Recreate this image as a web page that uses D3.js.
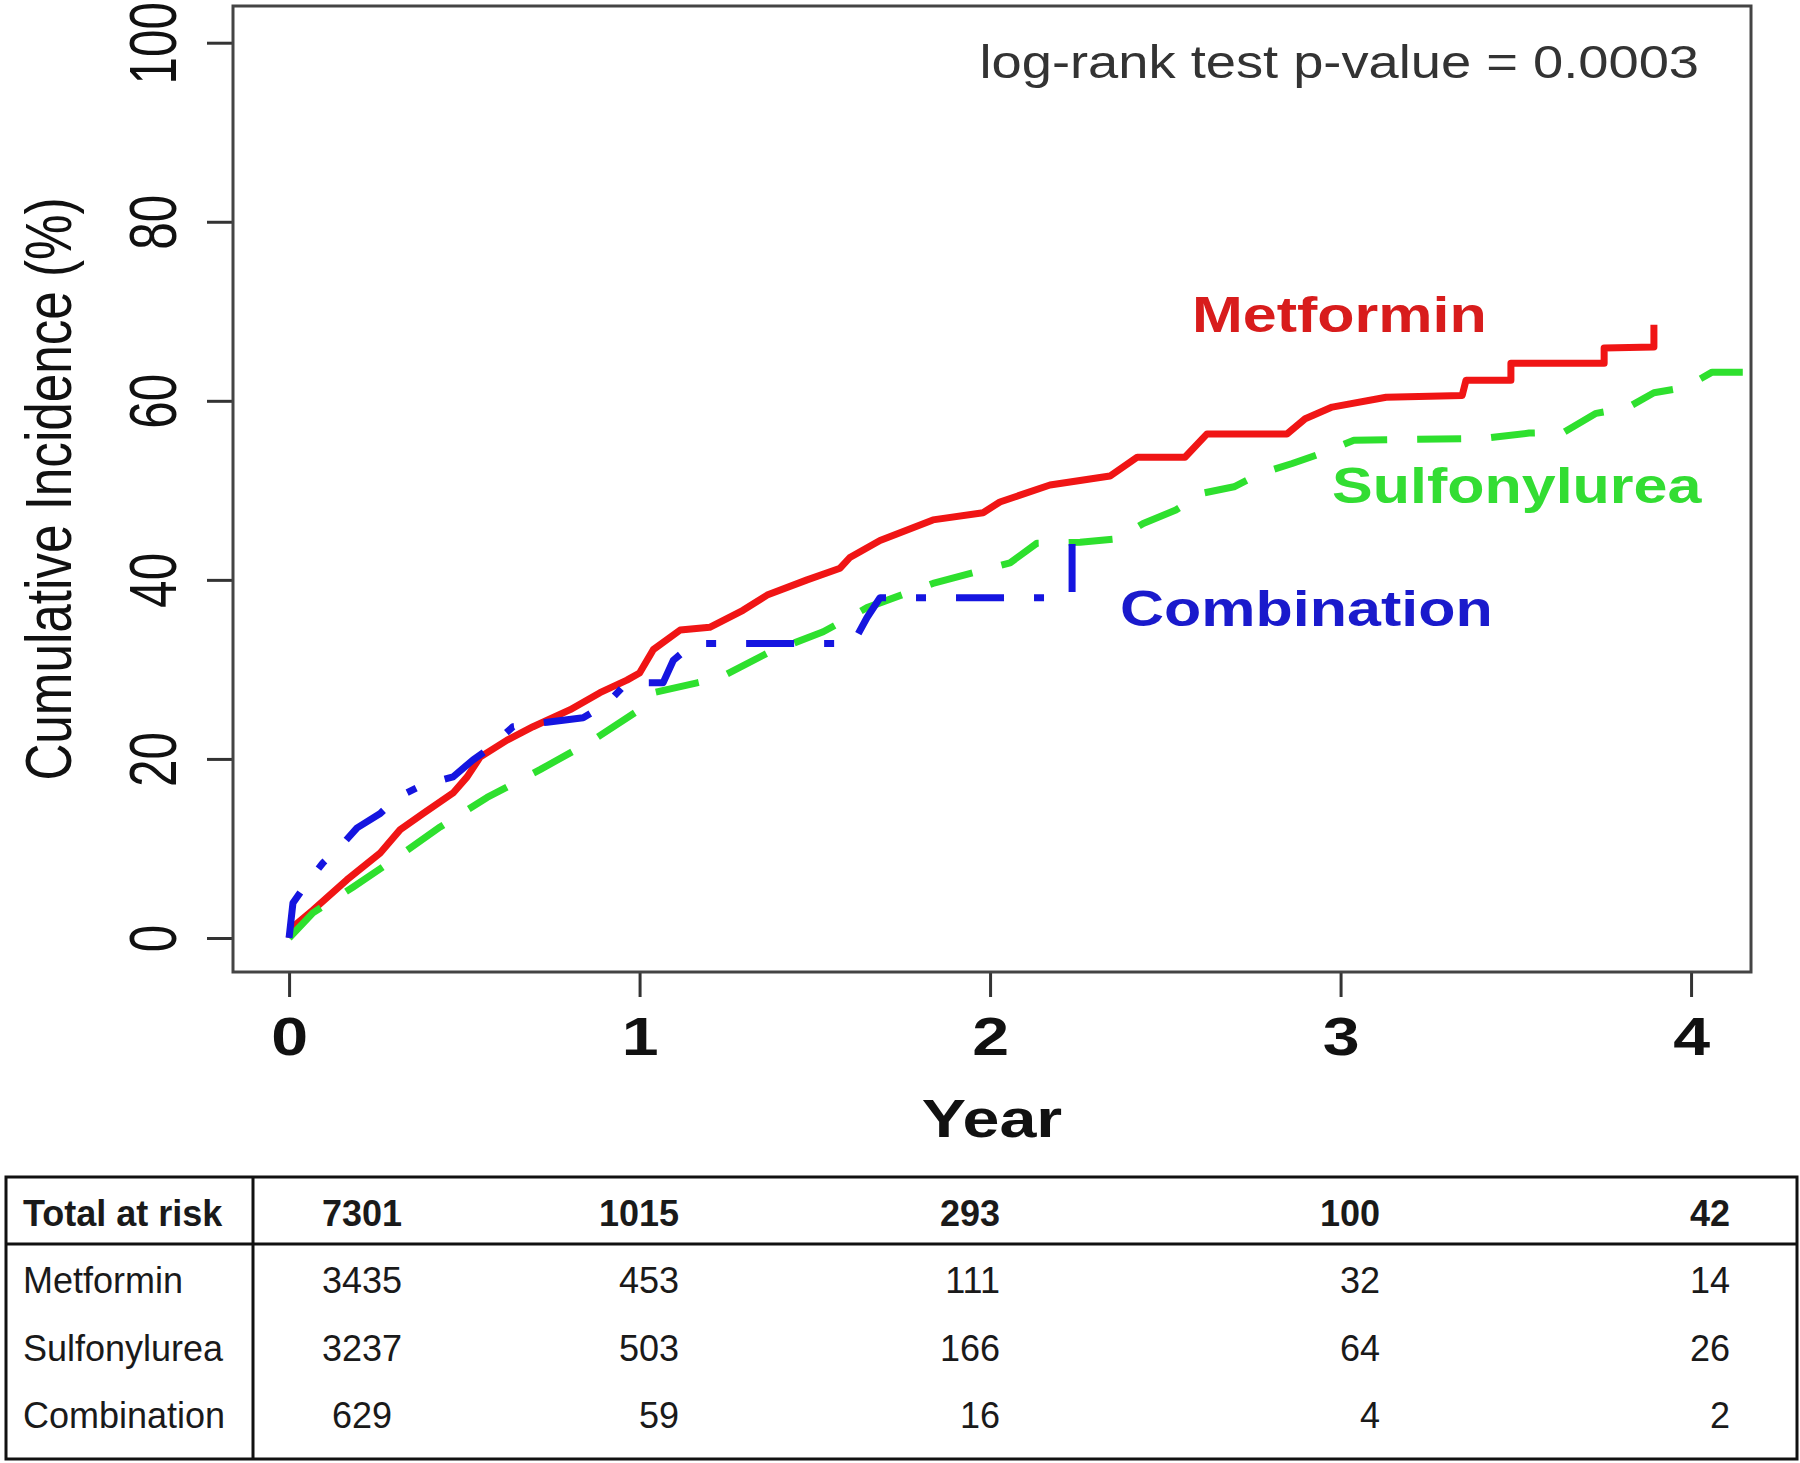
<!DOCTYPE html>
<html><head><meta charset="utf-8">
<script src="https://cdn.jsdelivr.net/npm/d3@7"></script>
<style>body{margin:0;background:#fff}svg{display:block}</style>
</head><body>
<svg id="chart" width="1800" height="1463"></svg>
<script>
// ---------------- data ----------------
const seriesNames = ["Metformin", "Sulfonylurea", "Combination"];
const metformin = [[0,0],[0.01,1.2],[0.068,3.1],[0.165,6.5],[0.26,9.5],[0.317,12.1],[0.382,13.9],[0.468,16.2],[0.508,18.0],[0.545,20.2],[0.622,22.1],[0.696,23.6],[0.802,25.5],[0.887,27.4],[0.964,28.8],[1.0,29.6],[1.039,32.2],[1.116,34.4],[1.2,34.7],[1.295,36.6],[1.364,38.3],[1.478,40.0],[1.572,41.3],[1.6,42.5],[1.686,44.4],[1.837,46.7],[1.98,47.5],[2.028,48.7],[2.171,50.6],[2.342,51.6],[2.42,53.7],[2.556,53.7],[2.619,56.3],[2.847,56.3],[2.899,58.0],[2.976,59.3],[3.13,60.4],[3.347,60.6],[3.358,62.3],[3.486,62.3],[3.486,64.2],[3.752,64.2],[3.752,65.9],[3.894,66.0],[3.894,68.5]];
const sulfonylurea = [[0,0],[0.068,2.8],[0.183,5.7],[0.308,9.0],[0.431,12.4],[0.565,15.7],[0.716,18.8],[0.867,22.1],[1.0,25.5],[1.04,27.4],[1.164,28.5],[1.23,29.1],[1.364,31.8],[1.524,34.2],[1.649,36.9],[1.837,39.6],[2.057,41.9],[2.134,44.1],[2.257,44.2],[2.365,44.6],[2.437,46.3],[2.53,47.8],[2.608,49.7],[2.696,50.4],[2.773,51.9],[2.862,53.0],[2.95,54.2],[3.038,55.6],[3.41,55.8],[3.538,56.4],[3.638,56.5],[3.729,58.6],[3.817,59.2],[3.894,60.9],[3.983,61.5],[4.06,63.2],[4.17,63.2]];
const combination = [[0,0],[0.011,3.9],[0.05,6.1],[0.097,8.4],[0.146,10.2],[0.194,12.3],[0.26,13.9],[0.308,15.7],[0.382,17.1],[0.468,18.0],[0.525,19.9],[0.565,21.0],[0.639,23.6],[0.736,24.1],[0.839,24.6],[0.907,26.2],[0.964,28.5],[1.067,28.5],[1.096,31.0],[1.153,32.9],[1.609,32.9],[1.649,35.8],[1.686,38.0],[2.19,38.0],[2.234,38.5],[2.234,44.0]];
const xTicks = [0, 1, 2, 3, 4];
const yTicks = [0, 20, 40, 60, 80, 100];
const xLabel = "Year";
const yLabel = "Cumulative Incidence (%)";
const pValueText = "log-rank test p-value = 0.0003";
const riskHeader = "Total at risk";
const riskTotal = [7301, 1015, 293, 100, 42];
const riskMetformin = [3435, 453, 111, 32, 14];
const riskSulfonylurea = [3237, 503, 166, 64, 26];
const riskCombination = [629, 59, 16, 4, 2];

// ---------------- layout ----------------
const FONT = "'Liberation Sans', Arial, Helvetica, sans-serif";
const box = {left: 233, right: 1751, top: 6, bottom: 972};
const svg = d3.select("#chart");
const x = d3.scaleLinear().domain([-0.16, 4.171]).range([box.left, box.right]);
const y = d3.scaleLinear().domain([-3.8, 104.1]).range([box.bottom, box.top]);

svg.append("defs").append("clipPath").attr("id", "plotclip")
  .append("rect").attr("x", box.left).attr("y", box.top)
  .attr("width", box.right - box.left).attr("height", box.bottom - box.top);

// axes
const gx = svg.append("g").attr("transform", `translate(0,${box.bottom})`)
  .call(d3.axisBottom(x).tickValues(xTicks).tickSize(25).tickFormat(d3.format("d")));
gx.select(".domain").remove();
gx.selectAll(".tick line").attr("stroke", "#333").attr("stroke-width", 3);
gx.selectAll(".tick text").attr("y", 0).attr("dy", null)
  .attr("transform", "translate(0,83) scale(1.25,1)")
  .attr("font-size", 53).attr("font-weight", "bold").attr("font-family", FONT)
  .attr("fill", "#111").attr("text-anchor", "middle");

const gy = svg.append("g").attr("transform", `translate(${box.left},0)`)
  .call(d3.axisLeft(y).tickValues(yTicks).tickSize(26).tickFormat(d3.format("d")));
gy.select(".domain").remove();
gy.selectAll(".tick line").attr("stroke", "#333").attr("stroke-width", 3);
gy.selectAll(".tick text").attr("x", 0).attr("dy", null)
  .attr("transform", "translate(-57,0) rotate(-90) scale(0.75,1)")
  .attr("font-size", 66).attr("font-family", FONT)
  .attr("fill", "#111").attr("text-anchor", "middle");

// box
svg.append("rect").attr("x", box.left).attr("y", box.top)
  .attr("width", box.right - box.left).attr("height", box.bottom - box.top)
  .attr("fill", "none").attr("stroke", "#444").attr("stroke-width", 3);

// titles
svg.append("text").text(yLabel)
  .attr("transform", `translate(71,${(box.top + box.bottom) / 2}) rotate(-90) scale(0.8,1)`)
  .attr("font-size", 64).attr("font-family", FONT).attr("fill", "#111").attr("text-anchor", "middle");
svg.append("text").text(xLabel)
  .attr("transform", `translate(${(box.left + box.right) / 2},1137) scale(1.23,1)`)
  .attr("font-size", 54).attr("font-weight", "bold").attr("font-family", FONT)
  .attr("fill", "#111").attr("text-anchor", "middle");
svg.append("text").text(pValueText)
  .attr("transform", "translate(1699,78) scale(1.18,1)")
  .attr("font-size", 46).attr("font-family", FONT).attr("fill", "#333").attr("text-anchor", "end");

// curves
const line = d3.line().x(d => x(d[0])).y(d => y(d[1]));
const curves = [
  {data: metformin, color: "#f01515", dash: null},
  {data: sulfonylurea, color: "#2ee02e", dash: "44,30"},
  {data: combination, color: "#1515e0", dash: "48,30,10,30"}
];
const gc = svg.append("g").attr("clip-path", "url(#plotclip)");
curves.forEach(c => {
  gc.append("path").attr("d", line(c.data)).attr("fill", "none")
    .attr("stroke", c.color).attr("stroke-width", 7)
    .attr("stroke-linejoin", "round")
    .attr("stroke-dasharray", c.dash);
});

// series labels
const labelPos = [
  {t: 1192, b: 332, color: "#d81c1c"},
  {t: 1332, b: 503, color: "#33dd33"},
  {t: 1120, b: 626, color: "#1a1acc"}
];
seriesNames.forEach((n, i) => {
  svg.append("text").text(n)
    .attr("transform", `translate(${labelPos[i].t},${labelPos[i].b}) scale(1.22,1)`)
    .attr("font-size", 50).attr("font-weight", "bold").attr("font-family", FONT)
    .attr("fill", labelPos[i].color);
});

// risk table
const tbl = {left: 6, right: 1797, top: 1177, head: 1244, bottom: 1459, split: 253};
const tg = svg.append("g");
tg.append("rect").attr("x", tbl.left).attr("y", tbl.top)
  .attr("width", tbl.right - tbl.left).attr("height", tbl.bottom - tbl.top)
  .attr("fill", "none").attr("stroke", "#111").attr("stroke-width", 3);
tg.append("line").attr("x1", tbl.left).attr("x2", tbl.right).attr("y1", tbl.head).attr("y2", tbl.head)
  .attr("stroke", "#111").attr("stroke-width", 3);
tg.append("line").attr("x1", tbl.split).attr("x2", tbl.split).attr("y1", tbl.top).attr("y2", tbl.bottom)
  .attr("stroke", "#111").attr("stroke-width", 3);

const rows = [
  {label: riskHeader, vals: riskTotal, bold: true},
  {label: seriesNames[0], vals: riskMetformin, bold: false},
  {label: seriesNames[1], vals: riskSulfonylurea, bold: false},
  {label: seriesNames[2], vals: riskCombination, bold: false}
];
const rowBase = [1226, 1293, 1361, 1428];
const cols = [{x: 362, a: "middle"}, {x: 679, a: "end"}, {x: 1000, a: "end"}, {x: 1380, a: "end"}, {x: 1730, a: "end"}];
rows.forEach((r, i) => {
  tg.append("text").text(r.label).attr("x", 23).attr("y", rowBase[i])
    .attr("font-size", 36).attr("font-family", FONT).attr("fill", "#1a1a1a")
    .attr("font-weight", r.bold ? "bold" : "normal");
  r.vals.forEach((v, j) => {
    tg.append("text").text(v).attr("x", cols[j].x).attr("y", rowBase[i])
      .attr("text-anchor", cols[j].a)
      .attr("font-size", 36).attr("font-family", FONT).attr("fill", "#1a1a1a")
      .attr("font-weight", r.bold ? "bold" : "normal");
  });
});
</script>
</body></html>
